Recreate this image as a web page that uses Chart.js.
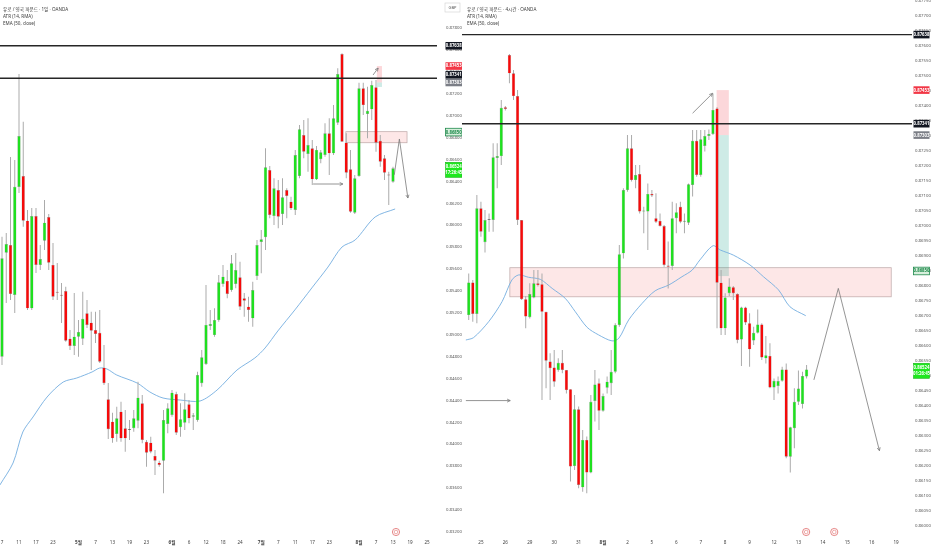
<!DOCTYPE html>
<html>
<head>
<meta charset="utf-8">
<script src="https://cdn.jsdelivr.net/npm/chart.js@4.4.1/dist/chart.umd.min.js"></script>
<style>
html, body { margin: 0; padding: 0; background: #fff; overflow: hidden; }
#wrap { position: relative; width: 932px; height: 550px; }
#daily { position: absolute; left: 0; top: 0; width: 462px; height: 550px; }
#h4 { position: absolute; left: 462px; top: 0; width: 470px; height: 550px; }
</style>
</head>
<body>
<div id="wrap">
  <canvas id="daily" width="462" height="550"></canvas>
  <canvas id="h4" width="470" height="550"></canvas>
</div>
<script>
var FONT = "'Noto Sans', 'Noto Sans CJK KR', sans-serif";
var GREEN = '#1fe01f';
var RED = '#f50a0a';

// ---- daily chart (left) ----
var dOpen  = [0.84799,0.85749,0.85819,0.85363,0.86349,0.86449,0.86041,0.85241,0.86084,0.85637,0.85858,0.86075,0.85637,0.85393,0.85358,0.85399,0.84964,0.84897,0.84982,0.84964,0.85196,0.85110,0.85043,0.85018,0.84699,0.84410,0.84206,0.84094,0.84297,0.84146,0.84130,0.84146,0.84215,0.84374,0.84023,0.84014,0.83893,0.83832,0.83850,0.84185,0.84267,0.84459,0.84155,0.84197,0.84365,0.84252,0.84221,0.84557,0.84733,0.85080,0.84997,0.85134,0.85463,0.85491,0.85408,0.85463,0.85524,0.85333,0.85256,0.85150,0.85536,0.85847,0.85890,0.86504,0.86084,0.86321,0.86102,0.86321,0.86215,0.86139,0.86449,0.86823,0.86650,0.86702,0.86419,0.86602,0.86641,0.86839,0.86656,0.86936,0.87563,0.86753,0.86510,0.86114,0.86449,0.87250,0.87015,0.87058,0.87259,0.86771,0.86611,0.86458,0.86397];
var dHigh  = [0.85895,0.85929,0.86623,0.86595,0.87380,0.86945,0.86139,0.86157,0.86157,0.85819,0.86230,0.86102,0.85837,0.85655,0.85472,0.85438,0.85043,0.85381,0.85134,0.85393,0.85317,0.85210,0.85210,0.85226,0.84906,0.84559,0.84288,0.84343,0.84389,0.84313,0.84221,0.84313,0.84571,0.84450,0.84039,0.84069,0.83948,0.83850,0.84313,0.84374,0.84495,0.84480,0.84374,0.84465,0.84404,0.84285,0.84662,0.84860,0.85454,0.85226,0.85241,0.85545,0.85637,0.85591,0.85728,0.85746,0.85667,0.85381,0.85347,0.85484,0.85865,0.85956,0.86702,0.86540,0.86428,0.86413,0.86428,0.86337,0.86260,0.86687,0.86915,0.86960,0.86976,0.86778,0.86723,0.86687,0.86930,0.86976,0.87097,0.87432,0.87569,0.86839,0.86687,0.86458,0.87301,0.87301,0.87264,0.87319,0.87326,0.86823,0.86641,0.86488,0.86534];
var dLow   = [0.84724,0.85290,0.85317,0.85198,0.86294,0.85986,0.85226,0.85226,0.85564,0.85591,0.85774,0.85591,0.85317,0.85317,0.85107,0.84936,0.84860,0.84815,0.84799,0.84906,0.85061,0.84678,0.84924,0.84742,0.84541,0.84048,0.84014,0.84023,0.84023,0.83932,0.84039,0.84115,0.84146,0.84009,0.83795,0.83917,0.83719,0.83795,0.83552,0.84100,0.84252,0.84084,0.84069,0.84130,0.84191,0.84130,0.84206,0.84525,0.84724,0.85043,0.84982,0.85119,0.85438,0.85333,0.85393,0.85424,0.85226,0.85165,0.85119,0.85073,0.85500,0.85561,0.85774,0.86063,0.86002,0.85972,0.86002,0.86063,0.86139,0.86093,0.86428,0.86611,0.86488,0.86367,0.86413,0.86565,0.86625,0.86458,0.86641,0.86915,0.86762,0.86428,0.86114,0.86102,0.86443,0.87006,0.86793,0.86960,0.86671,0.86534,0.86413,0.86184,0.86388];
var dClose = [0.85698,0.85828,0.85372,0.86351,0.86814,0.86041,0.85241,0.86084,0.85637,0.85691,0.86023,0.85658,0.85347,0.85384,0.85355,0.84945,0.84897,0.84982,0.85025,0.85146,0.85089,0.85037,0.85007,0.84754,0.84557,0.84137,0.84054,0.84237,0.84054,0.84054,0.84135,0.84237,0.84425,0.84039,0.83923,0.83932,0.83850,0.83811,0.84221,0.84328,0.84471,0.84105,0.84228,0.84319,0.84237,0.84264,0.84632,0.84794,0.85089,0.85098,0.85134,0.85479,0.85530,0.85372,0.85652,0.85591,0.85256,0.85311,0.85226,0.85408,0.85819,0.85871,0.86529,0.86093,0.86337,0.86078,0.86255,0.86267,0.86154,0.86641,0.86876,0.86671,0.86732,0.86419,0.86687,0.86666,0.86839,0.86656,0.86976,0.87380,0.86762,0.86479,0.86123,0.86428,0.87250,0.87097,0.87045,0.87280,0.86753,0.86580,0.86479,0.86454,0.86519];
var dEmaIdx = [-0.5,2.6,4.9,7.3,10.6,14.4,17.6,21.2,23,24.7,27,31.8,34.8,37.9,41.9,46.6,50.6,55.3,59.5,61.9,64.9,68.9,72.9,76.7,80,83.1,87.8,92.5];
var dEmaVal = [0.83628,0.83829,0.84112,0.84249,0.84431,0.84568,0.84605,0.84660,0.84696,0.84687,0.84632,0.84559,0.84477,0.84422,0.84404,0.84395,0.84495,0.84678,0.84788,0.84879,0.85034,0.85226,0.85427,0.85618,0.85801,0.85865,0.86075,0.86148];
var dTickIdx  = [0,4,8,12,18,22,26,30,34,40,44,48,52,56,61,65,69,73,77,84,88,92,96,100];
var dTickText = ["7","11","17","23","5월","7","13","19","23","6월","6","12","18","24","7월","7","11","17","23","8월","7","13","19","25"];
var dPriceTicks = [0.878,0.876,0.874,0.872,0.870,0.868,0.866,0.864,0.862,0.860,0.858,0.856,0.854,0.852,0.850,0.848,0.846,0.844,0.842,0.840,0.838,0.836,0.834,0.832];
var dZone = [80.9, 95.3, 0.86854, 0.86753];
var dPosition = [88.2, 89.4, 0.87453, 0.87303, 0.87262];
var dArrows = [
  [[87.3, 0.87371], [88.5, 0.87435]],
  [[73.2, 0.86376], [80.2, 0.86376]],
  [[92.3, 0.86460], [93.5, 0.86787], [95.5, 0.86248]]
];
var dIcons = [92.7];

// ---- 4 hour chart (right) ----
var hOpen  = [0.86703,0.86812,0.86707,0.87059,0.86946,0.87020,0.87020,0.87227,0.87233,0.87396,0.87570,0.87509,0.87433,0.87020,0.86756,0.86696,0.86762,0.86809,0.86806,0.86714,0.86548,0.86528,0.86520,0.86544,0.86520,0.86456,0.86200,0.86389,0.86129,0.86287,0.86178,0.86417,0.86476,0.86384,0.86461,0.86476,0.86514,0.86670,0.86909,0.87120,0.87259,0.87153,0.87173,0.87048,0.87048,0.87107,0.87026,0.87017,0.87000,0.86868,0.86867,0.87026,0.87064,0.87014,0.87011,0.87137,0.87284,0.87170,0.87267,0.87300,0.87307,0.87392,0.86811,0.86659,0.86776,0.86796,0.86773,0.86622,0.86728,0.86676,0.86618,0.86644,0.86672,0.86559,0.86567,0.86462,0.86467,0.86484,0.86522,0.86231,0.86326,0.86414,0.86407,0.86498];
var hHigh  = [0.86842,0.86820,0.87103,0.87081,0.87053,0.87042,0.87276,0.87276,0.87420,0.87400,0.87573,0.87520,0.87453,0.87020,0.86767,0.86809,0.86853,0.86853,0.86842,0.86714,0.86576,0.86587,0.86559,0.86587,0.86520,0.86456,0.86437,0.86398,0.86320,0.86298,0.86437,0.86520,0.86492,0.86442,0.86498,0.86587,0.86676,0.86937,0.87126,0.87303,0.87303,0.87203,0.87203,0.87064,0.87142,0.87120,0.87109,0.87042,0.87003,0.86948,0.87081,0.87076,0.87081,0.87042,0.87142,0.87320,0.87320,0.87320,0.87320,0.87322,0.87442,0.87396,0.86853,0.86776,0.86826,0.86800,0.86776,0.86731,0.86731,0.86709,0.86664,0.86722,0.86676,0.86633,0.86609,0.86492,0.86498,0.86531,0.86542,0.86331,0.86459,0.86518,0.86514,0.86537];
var hLow   = [0.86687,0.86681,0.86676,0.86964,0.86912,0.86981,0.86981,0.87126,0.87203,0.87385,0.87476,0.87420,0.87003,0.86753,0.86659,0.86692,0.86759,0.86798,0.86420,0.86459,0.86420,0.86464,0.86514,0.86509,0.86442,0.86148,0.86187,0.86126,0.86114,0.86109,0.86176,0.86348,0.86320,0.86381,0.86442,0.86437,0.86509,0.86664,0.86892,0.87114,0.87148,0.87126,0.87042,0.86976,0.86920,0.87097,0.87010,0.86998,0.86864,0.86792,0.86853,0.86976,0.87009,0.86976,0.87003,0.87098,0.87164,0.87164,0.87248,0.87287,0.87303,0.86659,0.86637,0.86637,0.86767,0.86753,0.86609,0.86533,0.86670,0.86531,0.86603,0.86642,0.86553,0.86542,0.86459,0.86420,0.86442,0.86481,0.86226,0.86178,0.86259,0.86403,0.86392,0.86492];
var hClose = [0.86812,0.86707,0.87059,0.86981,0.87020,0.87023,0.87229,0.87233,0.87394,0.87390,0.87509,0.87433,0.87020,0.86756,0.86698,0.86773,0.86809,0.86803,0.86714,0.86551,0.86526,0.86481,0.86544,0.86520,0.86453,0.86198,0.86389,0.86137,0.86287,0.86178,0.86414,0.86472,0.86384,0.86433,0.86481,0.86514,0.86670,0.86906,0.87120,0.87259,0.87153,0.87170,0.87048,0.87050,0.87107,0.87102,0.87014,0.87000,0.86870,0.86864,0.87026,0.87046,0.87014,0.87017,0.87139,0.87284,0.87170,0.87289,0.87300,0.87307,0.87387,0.86811,0.86659,0.86762,0.86798,0.86776,0.86620,0.86728,0.86678,0.86589,0.86644,0.86672,0.86562,0.86569,0.86462,0.86484,0.86483,0.86522,0.86231,0.86329,0.86414,0.86458,0.86500,0.86522];
var hEmaIdx = [-0.7,1.2,4.9,8.2,10.6,12.3,14.7,17.6,20.5,23.7,26.2,29.1,31.9,35.2,36.9,39.3,42.6,45.8,49.1,52.4,54.9,56.8,60,61.8,65,69.1,72.4,76.1,78.9,82.8];
var hEmaVal = [0.86620,0.86628,0.86681,0.86748,0.86820,0.86837,0.86829,0.86822,0.86792,0.86759,0.86714,0.86662,0.86637,0.86617,0.86626,0.86687,0.86742,0.86784,0.86803,0.86831,0.86853,0.86887,0.86934,0.86920,0.86903,0.86870,0.86831,0.86787,0.86731,0.86701];
var hTickIdx  = [3,9,15,21,27,33,39,45,51,57,63,69,75,81,87,93,99,105];
var hTickText = ["25","26","29","30","31","8월","2","5","6","7","8","9","12","13","14","15","16","19"];
var hPriceTicks = [0.8775,0.8770,0.8765,0.8760,0.8755,0.8750,0.8745,0.8740,0.8735,0.8730,0.8725,0.8720,0.8715,0.8710,0.8705,0.8700,0.8695,0.8690,0.8685,0.8680,0.8675,0.8670,0.8665,0.8660,0.8655,0.8650,0.8645,0.8640,0.8635,0.8630,0.8625,0.8620,0.8615,0.8610,0.8605,0.8600];
var hZone = [10.1, 103.8, 0.86861, 0.86764];
var hPosition = [60.9, 63.9, 0.87453, 0.87303, 0.86833];
var hArrows = [
  [[55.0, 0.87376], [59.9, 0.87442]],
  [[-0.7, 0.86418], [10.2, 0.86418]],
  [[84.8, 0.86487], [90.8, 0.86792], [100.9, 0.86251]]
];
var hIcons = [82.9, 89.8];

// shared
var levels = [0.87638, 0.87341];
var tagVal  = [0.87638, 0.87453, 0.87341, 0.87303, 0.86850, 0.86524];
var tagKind = ['dark', 'red', 'dark', 'grey', 'outline', 'live'];

function drawings(s) {
  return {
    id: 'drawings',
    beforeDatasetsDraw: function(chart) {
      var ctx = chart.ctx, xs = chart.scales.x, ys = chart.scales.y, a = chart.chartArea;
      ctx.save();
      ctx.beginPath();
      ctx.rect(a.left, a.top, a.right - a.left, a.bottom - a.top);
      ctx.clip();
      // zone
      var x0 = xs.getPixelForValue(s.zone[0]), x1 = xs.getPixelForValue(s.zone[1]);
      var y0 = ys.getPixelForValue(s.zone[2]), y1 = ys.getPixelForValue(s.zone[3]);
      ctx.fillStyle = 'rgba(248,170,170,0.28)';
      ctx.fillRect(x0, y0, x1 - x0, y1 - y0);
      ctx.strokeStyle = 'rgba(150,120,120,0.55)';
      ctx.lineWidth = 0.8;
      ctx.strokeRect(x0, y0, x1 - x0, y1 - y0);
      // position tool
      var p = s.position;
      var px0 = xs.getPixelForValue(p[0]), px1 = xs.getPixelForValue(p[1]);
      var pa = ys.getPixelForValue(p[2]), pb = ys.getPixelForValue(p[3]), pc = ys.getPixelForValue(p[4]);
      ctx.fillStyle = 'rgba(242,54,69,0.2)';
      ctx.fillRect(px0, pa, px1 - px0, pb - pa);
      ctx.fillStyle = 'rgba(8,153,129,0.2)';
      ctx.fillRect(px0, pb, px1 - px0, pc - pb);
      ctx.restore();
    },
    afterDatasetsDraw: function(chart) {
      var ctx = chart.ctx, xs = chart.scales.x, ys = chart.scales.y, a = chart.chartArea;
      ctx.save();
      ctx.strokeStyle = '#7a7a7a';
      ctx.lineWidth = 0.8;
      s.arrows.forEach(function(path) {
        var pts = path.map(function(q) { return [xs.getPixelForValue(q[0]), ys.getPixelForValue(q[1])]; });
        ctx.beginPath();
        ctx.moveTo(pts[0][0], pts[0][1]);
        for (var i = 1; i < pts.length; i++) ctx.lineTo(pts[i][0], pts[i][1]);
        var e = pts[pts.length - 1], b = pts[pts.length - 2];
        var ang = Math.atan2(e[1] - b[1], e[0] - b[0]);
        ctx.moveTo(e[0] - 3.5 * Math.cos(ang - 0.45), e[1] - 3.5 * Math.sin(ang - 0.45));
        ctx.lineTo(e[0], e[1]);
        ctx.lineTo(e[0] - 3.5 * Math.cos(ang + 0.45), e[1] - 3.5 * Math.sin(ang + 0.45));
        ctx.stroke();
      });
      // event icons
      s.icons.forEach(function(v) {
        var x = xs.getPixelForValue(v), y = a.bottom - 5;
        ctx.beginPath();
        ctx.arc(x, y, 3.6, 0, Math.PI * 2);
        ctx.fillStyle = '#fff';
        ctx.fill();
        ctx.strokeStyle = '#e06a6a';
        ctx.lineWidth = 0.8;
        ctx.stroke();
        ctx.beginPath();
        ctx.arc(x, y, 1.8, 0, Math.PI * 2);
        ctx.strokeStyle = 'rgba(224,106,106,0.7)';
        ctx.stroke();
      });
      ctx.restore();
    },
    afterDraw: function(chart) {
      var ctx = chart.ctx, ys = chart.scales.y, a = chart.chartArea;
      ctx.save();
      // legend text
      ctx.fillStyle = '#3a3a3a';
      ctx.font = '4.6px ' + FONT;
      ctx.textBaseline = 'middle';
      ctx.textAlign = 'left';
      s.legend.forEach(function(t, i) { ctx.fillText(t, s.legendX, 9.3 + i * 7.3); });
      // currency box
      if (s.ccy) {
        ctx.fillStyle = '#fff';
        ctx.strokeStyle = '#d0d0d0';
        ctx.lineWidth = 0.6;
        ctx.fillRect(a.right + 8, 3, 15, 9);
        ctx.strokeRect(a.right + 8, 3, 15, 9);
        ctx.fillStyle = '#555';
        ctx.font = '4px ' + FONT;
        ctx.textAlign = 'center';
        ctx.fillText(s.ccy, a.right + 15.5, 7.6);
      }
      // price tags, pushed up when they collide
      var ys2 = tagVal.map(function(v) { return ys.getPixelForValue(v); });
      var order = tagVal.map(function(v, i) { return i; }).sort(function(i, j) { return ys2[j] - ys2[i]; });
      var prev = 1e9;
      order.forEach(function(i) {
        if (tagKind[i] !== 'live') {
          ys2[i] = Math.min(ys2[i], prev - 7.6);
          prev = ys2[i];
        }
      });
      var tx = a.right + s.tagOff, tw = s.tagW;
      ctx.textAlign = 'center';
      ctx.font = 'bold 4.3px ' + FONT;
      tagVal.forEach(function(v, i) {
        var y = ys2[i], k = tagKind[i], txt = v.toFixed(5);
        if (k === 'live') {
          ctx.fillStyle = '#1ee81e';
          ctx.fillRect(tx, y - 5.5, tw, 15);
          ctx.strokeStyle = '#19b219';
          ctx.lineWidth = 0.6;
          ctx.strokeRect(tx, y - 5.5, tw, 15);
          ctx.fillStyle = '#fff';
          ctx.fillText(txt, tx + tw / 2, y - 1.5);
          ctx.fillText(s.countdown, tx + tw / 2, y + 5);
          return;
        }
        var bg = k === 'dark' ? '#131722' : k === 'red' ? '#f23645' : k === 'grey' ? '#7b7e86' : '#d7efdc';
        ctx.fillStyle = bg;
        ctx.fillRect(tx, y - 3.8, tw, 7.6);
        if (k === 'outline') {
          ctx.strokeStyle = '#1f8a4c';
          ctx.lineWidth = 0.8;
          ctx.strokeRect(tx, y - 3.8, tw, 7.6);
          ctx.fillStyle = '#1f8a4c';
        } else {
          ctx.fillStyle = '#fff';
        }
        ctx.fillText(txt, tx + tw / 2, y + 0.2);
      });
      ctx.restore();
    }
  };
}

function makeChart(id, s) {
  var wick = [], body = [], colors = [];
  for (var i = 0; i < s.open.length; i++) {
    wick.push({x: i, y: [s.low[i], s.high[i]]});
    body.push({x: i, y: [s.open[i], s.close[i]]});
    colors.push(s.close[i] >= s.open[i] ? GREEN : RED);
  }
  var ema = s.emaIdx.map(function(v, i) { return {x: v, y: s.emaVal[i]}; });
  var datasets = levels.map(function(lv) {
    return {type: 'line', data: [{x: s.xMin, y: lv}, {x: s.xMax, y: lv}], borderColor: '#262626',
      borderWidth: 1.4, pointRadius: 0, order: 0};
  });
  datasets.push({type: 'bar', data: body, backgroundColor: colors, borderColor: 'rgba(50,50,50,0.55)',
    borderWidth: 0.4, borderSkipped: false, barPercentage: 1, maxBarThickness: 3.3, minBarLength: 1,
    grouped: false, order: 1});
  datasets.push({type: 'bar', data: wick, backgroundColor: '#ababab', barPercentage: 1,
    maxBarThickness: 1, grouped: false, order: 2});
  datasets.push({type: 'line', data: ema, borderColor: '#74aee0', borderWidth: 0.9, pointRadius: 0,
    tension: 0.3, order: 3});

  return new Chart(document.getElementById(id), {
    type: 'bar',
    data: {datasets: datasets},
    options: {
      responsive: false,
      animation: false,
      layout: {padding: 0},
      plugins: {legend: {display: false}, tooltip: {enabled: false}},
      scales: {
        x: {
          type: 'linear', min: s.xMin, max: s.xMax, offset: false,
          grid: {display: false, drawTicks: false}, border: {display: false},
          ticks: {
            autoSkip: false, maxRotation: 0, color: '#444', padding: 3,
            font: function(c) {
              var t = s.tickText[c.index] || '';
              return {family: FONT, size: 4.6, weight: t.indexOf('월') >= 0 ? 'bold' : 'normal'};
            },
            callback: function(v, i) { return s.tickText[i]; }
          },
          afterBuildTicks: function(sc) { sc.ticks = s.tickIdx.map(function(v) { return {value: v}; }); },
          afterFit: function(sc) { sc.height = 13; sc.paddingLeft = 0; sc.paddingRight = 0; }
        },
        y: {
          type: 'linear', position: 'right', min: s.yMin, max: s.yMax,
          grid: {display: false, drawTicks: false}, border: {display: false},
          ticks: {
            color: '#5a5a5a', padding: s.labelPad, font: {family: FONT, size: 4.3},
            callback: function(v) { return v.toFixed(5); }
          },
          afterBuildTicks: function(sc) { sc.ticks = s.priceTicks.map(function(v) { return {value: v}; }); },
          afterFit: function(sc) { sc.width = s.axisW; sc.paddingTop = 0; sc.paddingBottom = 0; }
        }
      }
    },
    plugins: [drawings(s)]
  });
}

makeChart('daily', {
  open: dOpen, high: dHigh, low: dLow, close: dClose,
  emaIdx: dEmaIdx, emaVal: dEmaVal,
  tickIdx: dTickIdx, tickText: dTickText, priceTicks: dPriceTicks,
  xMin: -0.47, xMax: 102.35, yMin: 0.831532, yMax: 0.88056,
  axisW: 25, labelPad: 9, tagOff: 8.5, tagW: 16.5,
  zone: dZone, position: dPosition, arrows: dArrows, icons: dIcons,
  legend: ['유로 / 영국 파운드 · 1일 · OANDA', 'ATR (14, RMA)', 'EMA (50, close)'],
  legendX: 3, ccy: 'GBP', countdown: '17:26:45'
});

makeChart('h4', {
  open: hOpen, high: hHigh, low: hLow, close: hClose,
  emaIdx: hEmaIdx, emaVal: hEmaVal,
  tickIdx: hTickIdx, tickText: hTickText, priceTicks: hPriceTicks,
  xMin: -1.65, xMax: 108.9, yMin: 0.859633, yMax: 0.877533,
  axisW: 20, labelPad: 3, tagOff: 1.5, tagW: 16,
  zone: hZone, position: hPosition, arrows: hArrows, icons: hIcons,
  legend: ['유로 / 영국 파운드 · 4시간 · OANDA', 'ATR (14, RMA)', 'EMA (50, close)'],
  legendX: 5, ccy: null, countdown: '01:26:45'
});
</script>
</body>
</html>
